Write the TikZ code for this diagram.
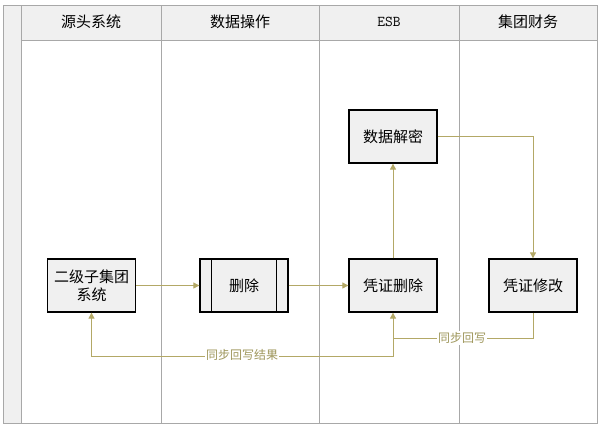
\documentclass[tikz,border=0pt]{standalone}
\usepackage{fontspec}
\setmainfont{Noto Sans CJK SC}
\usetikzlibrary{arrows.meta}
\definecolor{lanegray}{HTML}{A8A8A8}
\definecolor{headfill}{HTML}{F0F0F0}
\definecolor{boxfill}{HTML}{F0F0F0}
\definecolor{olive}{HTML}{B3A866}
\definecolor{labelolive}{HTML}{9E965A}
\begin{document}
\begin{tikzpicture}[x=1pt,y=-1pt,
  procbox/.style={draw=black,line width=1.3pt,fill=boxfill,minimum width=88pt,minimum height=53pt,inner sep=1pt,font=\fontsize{15}{18}\selectfont,align=center},
  headtext/.style={font=\fontsize{15}{17}\selectfont},
  flow/.style={draw=olive,line width=0.9pt,-{Triangle[length=6pt,width=6pt]}},
  flowlabel/.style={fill=white,text=labelolive,inner sep=1pt,font=\fontsize{12}{14}\selectfont},
  lane/.style={draw=lanegray,line width=0.8pt}]
\useasboundingbox (0,0) rectangle (602,429);
\fill[white] (0,0) rectangle (602,429);
% outer frame and left strip
\fill[headfill] (3,5) rectangle (21,423);
\fill[headfill] (21,5) rectangle (597,40);
\draw[lane] (3,5) rectangle (597,423);
\draw[lane] (21,5) -- (21,423);
\draw[lane] (21,40) -- (597,40);
\draw[lane] (161,5) -- (161,423);
\draw[lane] (319,5) -- (319,423);
\draw[lane] (459,5) -- (459,423);
% headers
\node[headtext] (h1) at (91,22) {源头系统};
\node[headtext] (h2) at (240,22) {数据操作};
\node[headtext] (h3) at (389,22) {\ttfamily ESB};
\node[headtext] (h4) at (528,22) {集团财务};
% boxes
\node[procbox] (sub) at (91.5,285.5) {二级子集团\\系统};
\node[procbox] (del) at (244,285.5) {删除};
\draw[line width=1.3pt] ([xshift=12pt]del.north west) -- ([xshift=12pt]del.south west);
\draw[line width=1.3pt] ([xshift=-12pt]del.north east) -- ([xshift=-12pt]del.south east);
\node[procbox] (vdel) at (393,285.5) {凭证删除};
\node[procbox] (dec) at (393,136.5) {数据解密};
\node[procbox] (vmod) at (533,285.5) {凭证修改};
% flows
\draw[flow] (sub.east) -- (del.west);
\draw[flow] (del.east) -- (vdel.west);
\draw[flow] (vdel.north) -- (dec.south);
\draw[flow] (dec.east) -| (vmod.north);
\coordinate (j1) at (393,338);
\coordinate (j2) at (393,356);
\draw[flow] (vmod.south) |- (j1) -- (vdel.south);
\draw[flow] (j1) -- (j2) -| (sub.south);
\node[flowlabel] (l1) at (462,338) {同步回写};
\node[flowlabel] (l2) at (242,355) {同步回写结果};
\end{tikzpicture}
\end{document}
